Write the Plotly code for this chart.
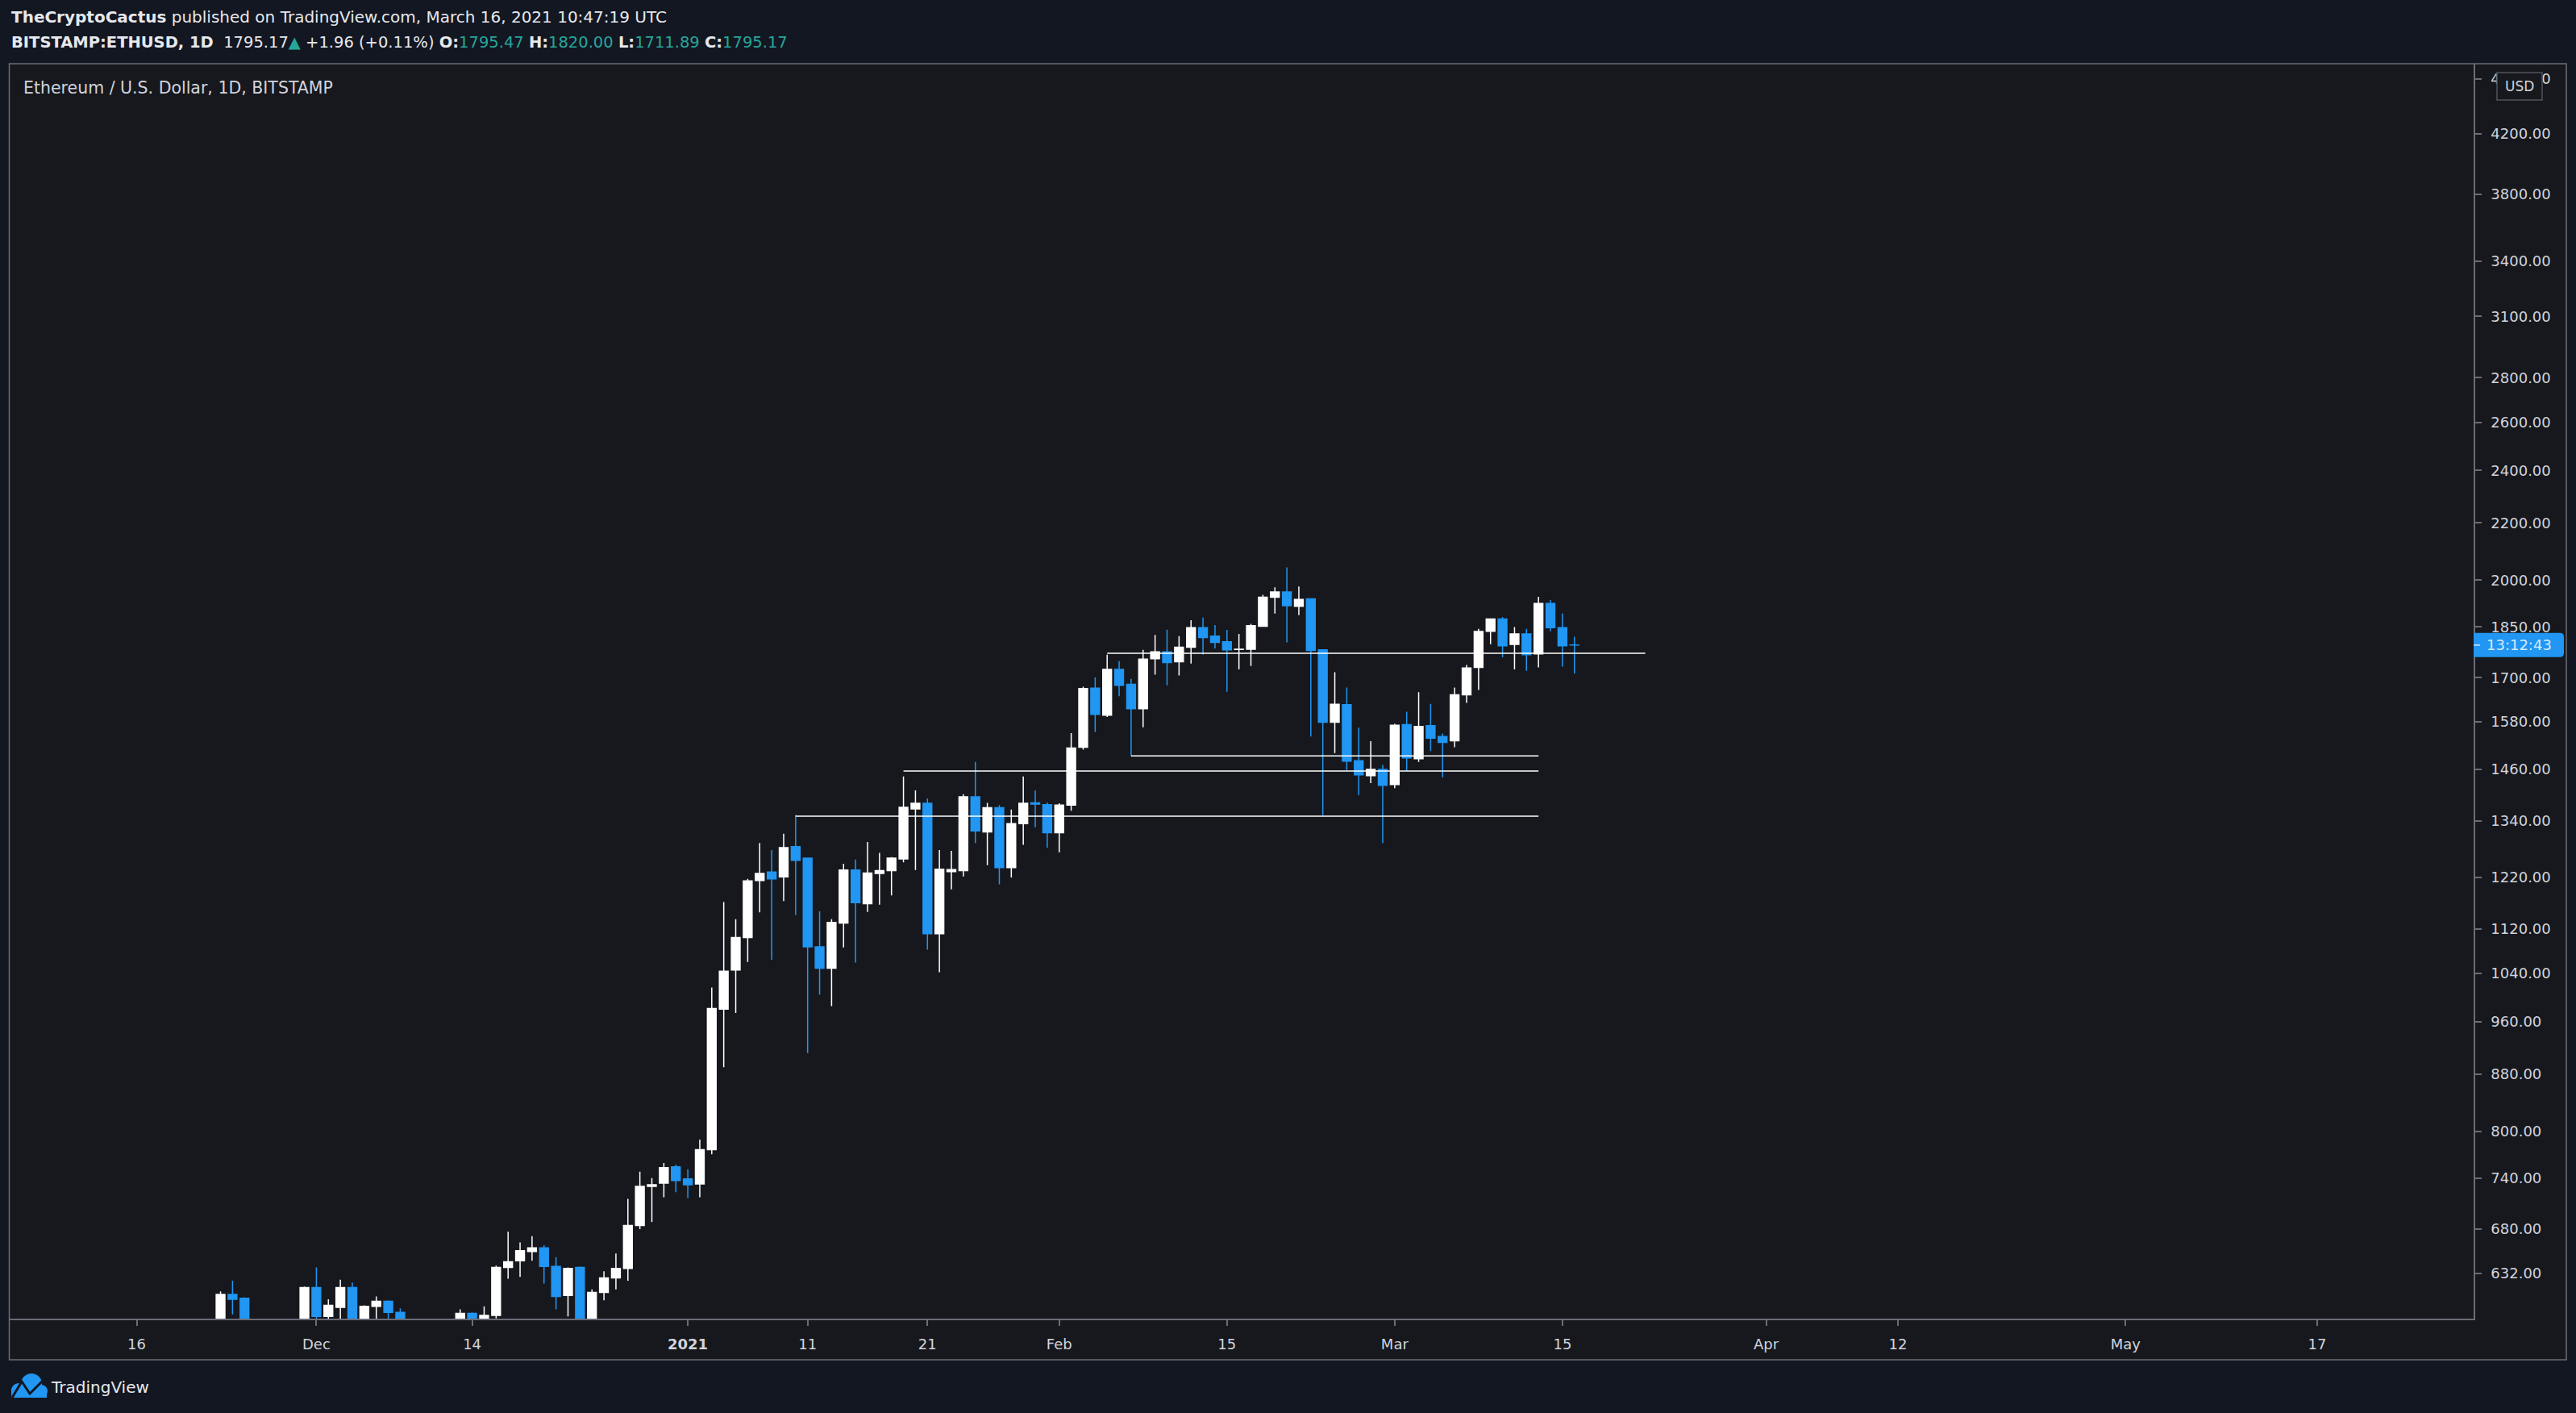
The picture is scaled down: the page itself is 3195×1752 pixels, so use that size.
import math
import pandas as pd
import plotly.graph_objects as go

# BITSTAMP:ETHUSD daily candles, first candle 2020-11-20
start_day = "2020-11-20"

opens = [
    471, 509, 548, 559, 610, 606, 567, 518, 518, 537, 575,
    617, 588, 597, 617, 570, 598, 603, 592, 555, 573, 560, 546, 568, 591, 585, 589,
    638, 645, 655, 659, 639, 609, 638, 583, 612, 627, 637, 684, 730, 734, 754,
    739, 733, 776, 980, 1046, 1104, 1214, 1231, 1221, 1284, 1260, 1087, 1049, 1131, 1235, 1168,
    1228, 1234, 1258, 1367, 1380, 1111, 1232, 1234, 1395, 1316, 1370, 1240, 1334, 1381, 1377,
    1314, 1376, 1515, 1671, 1598, 1724, 1682, 1615, 1755, 1775, 1746, 1789, 1848, 1822, 1805,
    1782, 1783, 1852, 1944, 1961, 1915, 1939, 1781, 1579, 1626, 1481, 1445, 1460,
    1424, 1573, 1486, 1570, 1542, 1531, 1653, 1730, 1837, 1875, 1797, 1829, 1769, 1924, 1848, 1795.47,
]
highs = [
    512, 550, 560, 613, 624, 607, 575, 535, 545, 578, 618,
    638, 605, 625, 622, 599, 608, 604, 596, 577, 574, 561, 569, 595, 592, 598, 640,
    677, 665, 672, 662, 649, 638, 639, 615, 634, 653, 715, 748, 740, 759, 757,
    751, 789, 1016, 1171, 1138, 1217, 1292, 1277, 1312, 1354, 1260, 1153, 1138, 1248, 1257, 1294,
    1271, 1262, 1443, 1410, 1391, 1277, 1275, 1401, 1478, 1381, 1376, 1366, 1443, 1410, 1382,
    1380, 1551, 1675, 1701, 1767, 1748, 1697, 1781, 1826, 1842, 1822, 1871, 1879, 1856, 1841,
    1829, 1860, 1952, 1976, 2043, 1979, 1939, 1783, 1716, 1673, 1565, 1530, 1471,
    1575, 1607, 1660, 1628, 1550, 1673, 1737, 1844, 1876, 1881, 1850, 1844, 1945, 1935, 1892, 1820.00,
]
lows = [
    469, 508, 520, 546, 590, 557, 490, 497, 505, 530, 570,
    566, 573, 585, 560, 562, 584, 584, 545, 530, 553, 537, 542, 563, 577, 575, 586,
    626, 628, 645, 621, 595, 588, 568, 570, 604, 615, 624, 680, 688, 717, 723,
    716, 717, 770, 890, 974, 1060, 1151, 1064, 1173, 1146, 911, 1004, 985, 1086, 1059, 1152,
    1166, 1184, 1251, 1235, 1082, 1042, 1196, 1222, 1292, 1245, 1206, 1220, 1288, 1326, 1282,
    1272, 1363, 1509, 1554, 1593, 1649, 1493, 1566, 1709, 1679, 1707, 1741, 1767, 1785, 1661,
    1724, 1734, 1852, 1892, 1803, 1887, 1542, 1353, 1500, 1458, 1399, 1427, 1292,
    1415, 1456, 1478, 1505, 1441, 1515, 1631, 1666, 1798, 1759, 1724, 1720, 1730, 1837, 1732, 1711.89,
]
closes = [
    509, 548, 559, 610, 605, 567, 518, 518, 537, 575, 617,
    588, 599, 617, 570, 598, 603, 592, 555, 573, 560, 546, 568, 591, 585, 589, 638,
    644, 656, 659, 639, 608, 637, 583, 612, 627, 637, 684, 730, 732, 753, 737,
    732, 776, 981, 1044, 1104, 1213, 1228, 1217, 1282, 1255, 1087, 1049, 1132, 1235, 1170, 1229,
    1234, 1260, 1371, 1380, 1111, 1237, 1236, 1395, 1318, 1370, 1240, 1334, 1380, 1378, 1314,
    1376, 1513, 1670, 1600, 1724, 1679, 1615, 1754, 1775, 1744, 1789, 1848, 1818, 1803, 1781,
    1783, 1854, 1944, 1961, 1917, 1937, 1779, 1579, 1627, 1480, 1447, 1460, 1422,
    1571, 1488, 1568, 1538, 1527, 1653, 1728, 1836, 1875, 1793, 1829, 1767, 1924, 1848, 1793.21, 1795.17,
]
assert len(opens) == len(highs) == len(lows) == len(closes)

# horizontal levels drawn by the author
level_prices = [1351, 1456, 1493, 1771]
level_starts = ["2021-01-10", "2021-01-19", "2021-02-07", "2021-02-05"]
level_ends = ["2021-03-13", "2021-03-13", "2021-03-13", "2021-03-21 22:00"]

price_ticks = [632, 680, 740, 800, 880, 960, 1040, 1120, 1220, 1340, 1460, 1580,
               1700, 1850, 2000, 2200, 2400, 2600, 2800, 3100, 3400, 3800, 4200, 4600]
date_ticks = ["2020-11-16", "2020-12-01", "2020-12-14", "2021-01-01", "2021-01-11",
              "2021-01-21", "2021-02-01", "2021-02-15", "2021-03-01", "2021-03-15",
              "2021-04-01", "2021-04-12", "2021-05-01", "2021-05-17"]
date_labels = ["16", "Dec", "14", "<b>2021</b>", "11", "21", "Feb", "15", "Mar", "15",
               "Apr", "12", "May", "17"]

y_bounds = [585.9, 4719]
x_bounds = ["2020-11-05 09:36", "2021-05-30 01:12"]

countdown = "13:12:43"

dates = pd.date_range(start_day, periods=len(opens), freq="D")

# colours
BG = "#131722"
PANE = "#17181d"
BORDER = "#6a6d78"
TEXT = "#d1d4dc"
UP = "#ffffff"
DOWN = "#2196f3"
TEAL = "#26a69a"
FONT = "DejaVu Sans"

# page geometry in pixels
W, H = 3195, 1752
L, R, T, B = 12, 3068, 79, 1635


def px(x):
    return (x - L) / (R - L)


def py(y):
    return (B - y) / (B - T)


lo, hi = math.log10(y_bounds[0]), math.log10(y_bounds[1])


def price_y(p):
    return (math.log10(p) - lo) / (hi - lo)


fig = go.Figure()

fig.add_trace(go.Candlestick(
    x=dates, open=opens, high=highs, low=lows, close=closes,
    increasing=dict(line=dict(color=UP, width=1.5), fillcolor=UP),
    decreasing=dict(line=dict(color=DOWN, width=1.5), fillcolor=DOWN),
    hoverinfo="skip", showlegend=False,
))

for lvl, s, e in zip(level_prices, level_starts, level_ends):
    fig.add_trace(go.Scatter(
        x=[s, e], y=[lvl, lvl], mode="lines",
        line=dict(color="#ffffff", width=1.5),
        hoverinfo="skip", showlegend=False,
    ))

shapes = []
# pane background and border
shapes.append(dict(type="rect", xref="paper", yref="paper", layer="below",
                   x0=px(11), x1=px(3183), y0=py(79), y1=py(1686),
                   fillcolor=PANE, line=dict(width=0)))
shapes.append(dict(type="rect", xref="paper", yref="paper", layer="above",
                   x0=px(11.5), x1=px(3183), y0=py(79), y1=py(1686),
                   line=dict(color=BORDER, width=1.5)))

# countdown label on the price scale
cy = price_y(closes[-1])
hh = 15 / (B - T)
x0, x1, r = px(3068), px(3180), px(3180) - px(3175)
rr = 5 / (B - T)
box_path = (f"M {x0},{cy + hh} L {x1 - r},{cy + hh} Q {x1},{cy + hh} {x1},{cy + hh - rr} "
            f"L {x1},{cy - hh + rr} Q {x1},{cy - hh} {x1 - r},{cy - hh} L {x0},{cy - hh} Z")
shapes.append(dict(type="path", xref="paper", yref="paper", layer="above",
                   path=box_path, fillcolor=DOWN, line=dict(width=0)))
shapes.append(dict(type="line", xref="paper", yref="paper", layer="above",
                   x0=px(3068), x1=px(3076), y0=cy, y1=cy,
                   line=dict(color="#d6ebff", width=1.5)))

# USD badge
shapes.append(dict(type="rect", xref="paper", yref="paper", layer="above",
                   x0=px(3097), x1=px(3153), y0=py(124), y1=py(90),
                   fillcolor=PANE, line=dict(color="#50535e", width=1.5)))

# TradingView logo (cloud + line)
for cxp, cyp, rad in [(23, 1724, 9), (39, 1716, 13), (51, 1725, 8)]:
    shapes.append(dict(type="circle", xref="paper", yref="paper", layer="above",
                       x0=px(cxp - rad), x1=px(cxp + rad), y0=py(cyp + rad), y1=py(cyp - rad),
                       fillcolor=DOWN, line=dict(width=0)))
shapes.append(dict(type="rect", xref="paper", yref="paper", layer="above",
                   x0=px(14), x1=px(58), y0=py(1733), y1=py(1722),
                   fillcolor=DOWN, line=dict(width=0)))
pts = [(15, 1733), (27, 1713), (37, 1728), (44, 1721), (57, 1708)]
logo_line = "M " + " L ".join(f"{px(a)},{py(b)}" for a, b in pts)
shapes.append(dict(type="path", xref="paper", yref="paper", layer="above",
                   path=logo_line, line=dict(color=BG, width=3)))

chg = closes[-1] - closes[-2]
pct = chg / closes[-2] * 100
hdr1 = "<b>TheCryptoCactus</b> published on TradingView.com, March 16, 2021 10:47:19 UTC"
hdr2 = (f"<b>BITSTAMP:ETHUSD, 1D</b>  {closes[-1]:.2f}<span style='color:{TEAL}'>▲</span> "
        f"{chg:+.2f} ({pct:+.2f}%) "
        f"<b>O:</b><span style='color:{TEAL}'>{opens[-1]:.2f}</span> "
        f"<b>H:</b><span style='color:{TEAL}'>{highs[-1]:.2f}</span> "
        f"<b>L:</b><span style='color:{TEAL}'>{lows[-1]:.2f}</span> "
        f"<b>C:</b><span style='color:{TEAL}'>{closes[-1]:.2f}</span>")

annotations = [
    dict(text=hdr1, x=px(12), y=py(21), font=dict(size=20, color="#e6e8ec")),
    dict(text=hdr2, x=px(12), y=py(52), font=dict(size=19.5, color="#e6e8ec")),
    dict(text="Ethereum / U.S. Dollar, 1D, BITSTAMP", x=px(27), y=py(109),
         font=dict(size=20.5, color=TEXT)),
    dict(text="TradingView", x=px(61), y=py(1720), font=dict(size=20, color="#e6e8ec")),
]
for a in annotations:
    a.update(xref="paper", yref="paper", xanchor="left", yanchor="middle", showarrow=False)
annotations.append(dict(text="USD", x=px(3125), y=py(107), xref="paper", yref="paper",
                        xanchor="center", yanchor="middle", showarrow=False,
                        font=dict(size=17, color=TEXT)))
annotations.append(dict(text=countdown, x=px(3124), y=cy, xref="paper", yref="paper",
                        xanchor="center", yanchor="middle", showarrow=False,
                        font=dict(size=18, color="#d6ebff")))

fig.update_layout(
    width=W, height=H,
    margin=dict(l=L, r=W - R, t=T, b=H - B, autoexpand=False),
    paper_bgcolor=BG, plot_bgcolor=PANE,
    font=dict(family=FONT, size=18, color=TEXT),
    boxgap=0.27, boxgroupgap=0,
    shapes=shapes, annotations=annotations,
    hovermode=False, dragmode=False,
)
fig.update_xaxes(
    type="date", range=x_bounds, rangeslider=dict(visible=False),
    tickvals=date_ticks, ticktext=date_labels,
    ticks="outside", ticklen=7, tickwidth=1.5, tickcolor=BORDER,
    showline=True, linecolor=BORDER, linewidth=1.5,
    showgrid=False, zeroline=False, ticklabelstandoff=8,
    tickfont=dict(size=18, color=TEXT),
)
fig.update_yaxes(
    type="log", side="right", range=[lo, hi],
    tickvals=price_ticks, ticktext=[f"{v:.2f}" for v in price_ticks],
    ticks="outside", ticklen=8, tickwidth=1.5, tickcolor=BORDER,
    showline=True, linecolor=BORDER, linewidth=1.5,
    showgrid=False, zeroline=False, ticklabelstandoff=8,
    tickfont=dict(size=18, color=TEXT),
)

fig.write_html("out.html", config={"displayModeBar": False},
               post_script="document.body.style.margin='0';document.body.style.overflow='hidden';")
